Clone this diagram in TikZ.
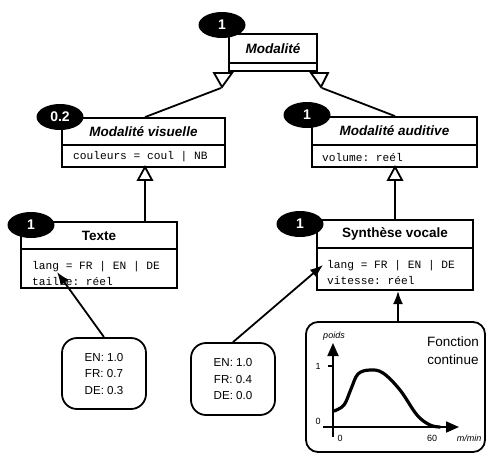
\documentclass[tikz,border=0pt]{standalone}
\usepackage{fontspec}
\setmainfont{Liberation Sans}
\setmonofont{Liberation Mono}
\usetikzlibrary{shapes.geometric,arrows.meta}
\begin{document}
\begin{tikzpicture}[x=1pt,y=-1pt,
  comp/.style={draw, line width=1.8pt, inner sep=0pt},
  clsit/.style={font=\bfseries\itshape\fontsize{13.5}{14}\selectfont},
  clsup/.style={font=\bfseries\fontsize{13.5}{14}\selectfont},
  attr/.style={anchor=west, align=left, inner sep=0pt, font=\ttfamily\fontsize{11.2}{16}\selectfont},
  badge/.style={ellipse, fill=black, minimum width=47pt, minimum height=26pt, inner sep=0pt, text=white, font=\bfseries\fontsize{14}{14}\selectfont},
  valbox/.style={draw, line width=1.8pt, rounded corners=15pt, minimum width=84pt, minimum height=71pt, inner sep=0pt, align=center, font=\fontsize{11.6}{16.5}\selectfont},
  gen/.style={draw, line width=1.8pt, fill=white, line join=miter},
  link/.style={line width=1.8pt},
  arr/.style={line width=1.8pt, -{Latex[length=13pt,width=10pt]}},
  axis/.style={line width=1.8pt, -{Triangle[length=13pt,width=11pt]}},
  small/.style={inner sep=0pt, font=\fontsize{9}{9}\selectfont}
]
\useasboundingbox (0,0) rectangle (487,453);

% Modalite
\node[comp, minimum width=88pt, minimum height=29pt, clsit] (mod) at (273,48.5) {Modalité};
\node[comp, minimum width=88pt, minimum height=8pt] (modA) at (273,67) {};
\node[badge] (b1) at (222,25) {1};

% Modalite visuelle
\node[comp, minimum width=163pt, minimum height=27pt, clsit] (vis) at (143.5,131.5) {Modalité visuelle};
\node[comp, minimum width=163pt, minimum height=22pt] (visA) at (143.5,156) {};
\node[attr] (visT) at (73,157) {couleurs = coul | NB};
\node[badge] (b2) at (60,117) {0.2};

% Modalite auditive
\node[comp, minimum width=165pt, minimum height=28pt, clsit] (aud) at (394.5,131) {Modalité auditive};
\node[comp, minimum width=165pt, minimum height=22pt] (audA) at (394.5,156) {};
\node[attr] (audT) at (322,157) {volume: reél};
\node[badge] (b3) at (307,115) {1};

% Texte
\node[comp, minimum width=156pt, minimum height=27pt, clsup] (txt) at (99,235.5) {Texte};
\node[comp, minimum width=156pt, minimum height=39pt] (txtA) at (99,268.5) {};
\node[attr] (txtT) at (32,273) {lang = FR | EN | DE\\taille: réel};
\node[badge] (b4) at (31,225) {1};

% Synthese vocale
\node[comp, minimum width=156pt, minimum height=28pt, clsup] (syn) at (395,234) {Synthèse vocale};
\node[comp, minimum width=156pt, minimum height=42pt] (synA) at (395,269) {};
\node[attr] (synT) at (327,272) {lang = FR | EN | DE\\vitesse: réel};
\node[badge] (b5) at (300,224) {1};

% generalisation triangles and links
\draw[gen] (214,73) -- (232,73) -- (222,87) -- cycle;
\draw[gen] (311,73) -- (328,73) -- (321,87) -- cycle;
\coordinate (t1) at (221,88);
\coordinate (t2) at (322,88);
\draw[link] (t1) -- (vis.north -| 145,0);
\draw[link] (t2) -- (aud.north -| 395,0);

\draw[gen] (145,167) -- (152,180) -- (138,180) -- cycle;
\draw[gen] (395,167) -- (402,180) -- (388,180) -- cycle;
\coordinate (t3) at (145,180);
\coordinate (t4) at (395,180);
\draw[link] (t3) -- (t3 |- txt.north);
\draw[link] (t4) -- (t4 |- syn.north);

% value boxes
\node[valbox] (ev1) at (104,373.5) {EN: 1.0\\FR: 0.7\\DE: 0.3};
\node[valbox, minimum height=72pt] (ev2) at (233,379) {EN: 1.0\\FR: 0.4\\DE: 0.0};
\coordinate (p1) at (57,272);
\coordinate (p2) at (323,265);
\draw[arr] (ev1.north) -- (p1);
\draw[arr] (ev2.north) -- (p2);

% function box
\node[draw, line width=1.8pt, rounded corners=12pt, minimum width=179pt, minimum height=130pt, inner sep=0pt] (fc) at (395.5,387) {};
\coordinate (p3) at (398,291);
\draw[arr] (fc.north -| p3) -- (p3);
\node[align=center, inner sep=0pt, font=\fontsize{13.5}{18}\selectfont] (fct) at (453,351) {Fonction\\continue};

\coordinate (yo) at (333,437);
\coordinate (yt) at (333,343);
\coordinate (xo) at (323,427);
\coordinate (xt) at (459,427);
\draw[axis] (yo) -- (yt);
\draw[axis] (xo) -- (xt);
\draw[line width=1.2pt] (328,366) -- (333,366);
\node[small] (l1) at (318,366) {1};
\node[small] (l0) at (318,421) {0};
\node[small] (lx0) at (340,438) {0};
\node[small] (l60) at (432,438) {60};
\node[small, font=\itshape\fontsize{9}{9}\selectfont] (lm) at (469,438) {m/min};
\node[small, font=\itshape\fontsize{9}{9}\selectfont] (lp) at (334,336) {poids};
\draw[line width=3.2pt, line cap=round] plot[smooth, tension=0.6] coordinates {(334,411) (344,405) (351,389) (358,374) (370,370) (383,373) (400,390) (417,415) (430,425) (440,427)};
\end{tikzpicture}
\end{document}
